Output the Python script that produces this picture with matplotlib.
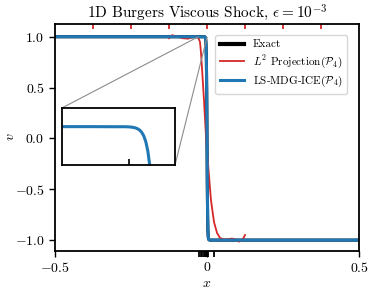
import matplotlib
matplotlib.use("Agg")
import matplotlib.pyplot as plt
from mpl_toolkits.axes_grid1.inset_locator import mark_inset

plt.rcParams['font.family'] = 'serif'
plt.rcParams['font.serif'] = ['cmr10']
plt.rcParams['mathtext.fontset'] = 'cm'
plt.rcParams['axes.formatter.use_mathtext'] = True
plt.rcParams['axes.unicode_minus'] = True

# exact viscous shock profile (dense near the corner for the inset)
exact_x = [-0.5, -0.03, -0.02, -0.015, -0.012, -0.011, -0.01, -0.0095, -0.009, -0.0085,
           -0.008, -0.0075, -0.007, -0.0065, -0.006, -0.0055, -0.005, -0.004, -0.003,
           -0.002, -0.001, 0.0, 0.001, 0.002, 0.003, 0.004, 0.005, 0.006, 0.008,
           0.01, 0.015, 0.02, 0.03, 0.5]
exact_v = [1.0, 1.0, 1.0, 0.99999, 0.99999, 0.99997, 0.99991, 0.99985, 0.99975, 0.99959,
           0.99933, 0.99889, 0.99818, 0.99700, 0.99505, 0.99186, 0.98661, 0.96403, 0.90515,
           0.76159, 0.46212, 0.0, -0.46212, -0.76159, -0.90515, -0.96403, -0.98661, -0.99505, -0.99933,
           -0.99991, -0.99999, -1.0, -1.0, -1.0]

# LS-MDG-ICE solution sits on top of the exact one
ice_x = exact_x
ice_v = exact_v

# L2 projection, only the two elements around the shock
l2_x = [-0.125, -0.115, -0.102, -0.082, -0.0625, -0.046, -0.036, -0.028, -0.023, -0.020,
        -0.016, -0.010, -0.003, 0.005, 0.013, 0.023, 0.033, 0.043, 0.059, 0.082,
        0.095, 0.105, 0.118, 0.125]
l2_v = [0.985, 1.015, 1.006, 0.986, 0.981, 0.996, 1.006, 0.986, 0.947, 0.849,
        0.67, 0.377, 0.0, -0.311, -0.606, -0.822, -0.93, -0.98, -0.995, -0.985,
        -0.995, -1.015, -0.99, -0.95]

l2_mesh = [-0.375, -0.25, -0.125, 0.0, 0.125, 0.25, 0.375]
ice_mesh = [-0.025, -0.0185, -0.015, -0.011, -0.0075, -0.004, 0.0, 0.003, 0.022]

red = '#d62728'
blue = '#1f77b4'

fig = plt.figure(figsize=(3.74, 2.94), dpi=100)
ax = fig.add_axes([0.147, 0.147, 0.813, 0.773])

ax.plot(exact_x, exact_v, color='k', lw=2.2, label='Exact')
ax.plot(l2_x, l2_v, color=red, lw=1.3, label=r'$L^2$ Projection($\mathcal{P}_4$)')
ax.plot(ice_x, ice_v, color=blue, lw=2.2, label=r'LS-MDG-ICE($\mathcal{P}_4$)')

# mesh nodes as small ticks
ax.vlines(l2_mesh, 0.975, 1.0, transform=ax.get_xaxis_transform(), colors=red, lw=1.3)
ax.vlines(ice_mesh, -0.028, 0.0, transform=ax.get_xaxis_transform(), colors='k', lw=1.3,
          clip_on=False)

ax.set_xticks([-0.5, 0, 0.5])
ax.set_xticklabels(['$-0.5$', '$0$', '$0.5$'])
ax.set_yticks([-1.0, -0.5, 0.0, 0.5, 1.0])
ax.set_xlim(-0.5, 0.5)
ax.set_ylim(-1.105, 1.13)
ax.tick_params(labelsize=10, width=1, length=4)
for s in ax.spines.values():
    s.set_linewidth(1.3)
ax.set_xlabel('$x$', fontsize=10, labelpad=2)
ax.set_ylabel('$v$', fontsize=10)
ax.yaxis.set_label_coords(-0.125, 0.5)
ax.set_title(r'1D Burgers Viscous Shock, $\epsilon = 10^{-3}$', fontsize=11, pad=4)
leg = ax.legend(loc='upper right', fontsize=8, handlelength=2.2, borderaxespad=1.05,
                labelspacing=0.35)
leg.legend_handles[0].set_linewidth(3)

# inset on the upper corner of the shock
axins = fig.add_axes([0.166, 0.439, 0.302, 0.194])
axins.plot(l2_x, l2_v, color=red, lw=1.3)
axins.plot(ice_x, ice_v, color=blue, lw=2.2)
axins.set_xticks([ice_mesh[3]])
axins.set_xticklabels([])
axins.set_yticks([])
axins.set_xlim(-0.027, 0.0)
axins.set_ylim(0.9953, 1.0023)
axins.tick_params(direction='in', length=4, width=1.2)
for s in axins.spines.values():
    s.set_linewidth(1.3)
mark_inset(ax, axins, loc1=2, loc2=4, fc='none', ec='0.55', lw=0.8)

fig.savefig('out.png', dpi=100)
